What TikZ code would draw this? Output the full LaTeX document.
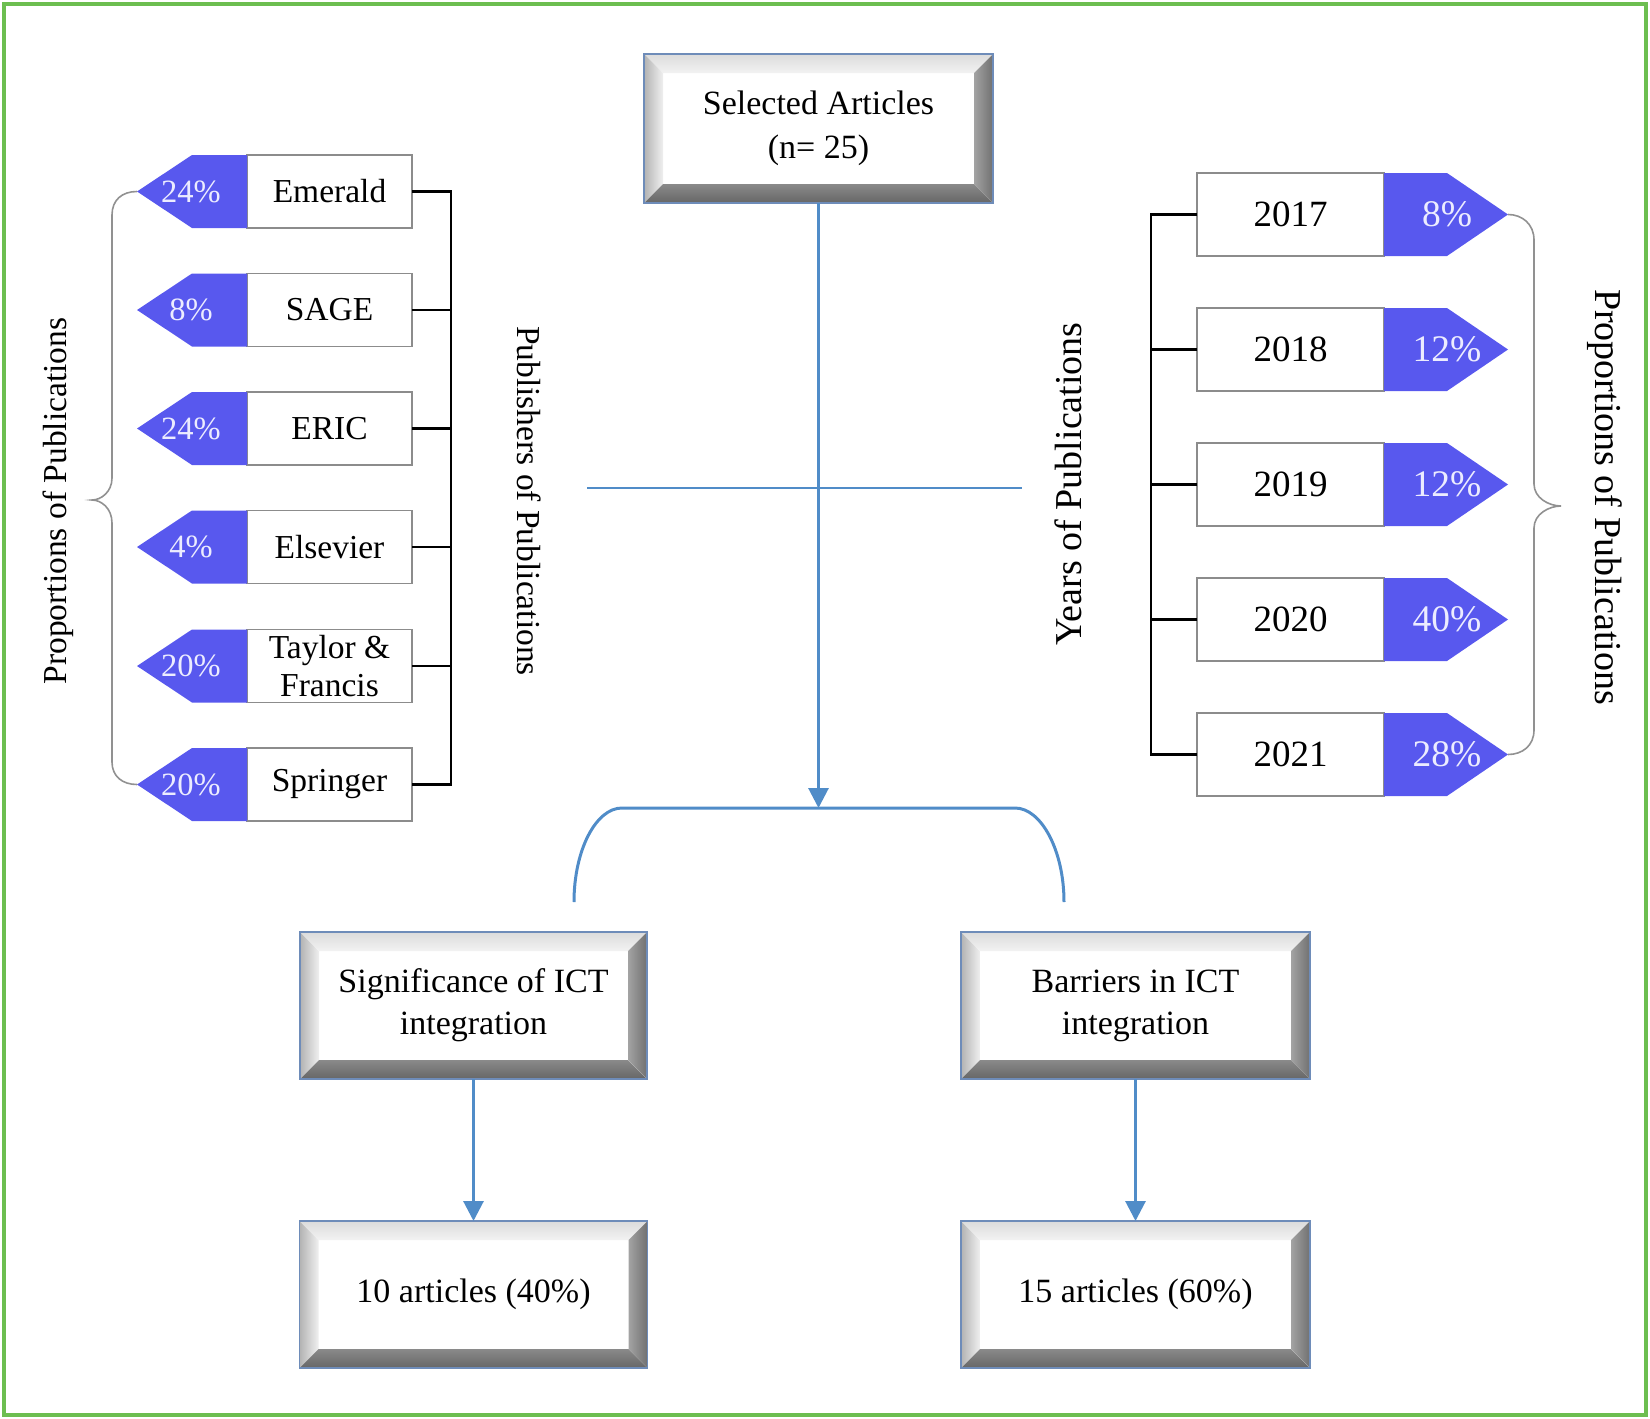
\documentclass[tikz,border=0pt]{standalone}
\usepackage{fontspec}
\setmainfont{Liberation Serif}
\usetikzlibrary{arrows.meta,calc}
\definecolor{pent}{RGB}{88,88,238}
\definecolor{pcttext}{RGB}{236,236,255}
\definecolor{conn}{RGB}{80,140,200}
\definecolor{bxb}{RGB}{110,140,185}
\definecolor{grn}{RGB}{108,190,80}
\definecolor{tagline}{RGB}{140,140,140}
\definecolor{bracecol}{RGB}{145,145,145}
\newcommand{\fs}[2]{\fontsize{#1}{#2}\selectfont}
\begin{document}
\begin{tikzpicture}[x=1pt,y=-1pt,
  bevel/.style 2 args={draw=bxb, line width=1.6pt, fill=white,
    minimum width=#1, minimum height=#2, inner sep=0pt, outer sep=0pt,
    align=center, font=\fs{34}{44},
    path picture={
      \path (path picture bounding box.north west) coordinate (bNW)
            (path picture bounding box.north east) coordinate (bNE)
            (path picture bounding box.south west) coordinate (bSW)
            (path picture bounding box.south east) coordinate (bSE);
      \fill[top color=black!14, bottom color=black!5] (bNW) -- (bNE) -- ([shift={(-19pt,-19pt)}]bNE) -- ([shift={(19pt,-19pt)}]bNW) -- cycle;
      \fill[left color=black!30, right color=black!6] (bNW) -- ([shift={(19pt,-19pt)}]bNW) -- ([shift={(19pt,19pt)}]bSW) -- (bSW) -- cycle;
      \fill[left color=black!36, right color=black!56] (bNE) -- (bSE) -- ([shift={(-19pt,19pt)}]bSE) -- ([shift={(-19pt,-19pt)}]bNE) -- cycle;
      \fill[top color=black!46, bottom color=black!60] (bSW) -- ([shift={(19pt,19pt)}]bSW) -- ([shift={(-19pt,19pt)}]bSE) -- (bSE) -- cycle;
    }},
  tagL/.style={draw=tagline, line width=1.8pt, fill=white, minimum width=165pt,
    minimum height=73pt, inner sep=0pt, outer sep=0pt, align=center, font=\fs{33.5}{38}},
  tagR/.style={draw=tagline, line width=1.8pt, fill=white, minimum width=187pt,
    minimum height=83pt, inner sep=0pt, outer sep=0pt, align=center, font=\fs{37}{42}},
  pctL/.style={text=pcttext, font=\fs{32.5}{38}, inner sep=0pt},
  pctR/.style={text=pcttext, font=\fs{37.5}{42}, inner sep=0pt},
  blk/.style={draw=black, line width=2.6pt},
  blu/.style={draw=conn, line width=3pt},
  brc/.style={draw=bracecol, line width=1.6pt},
  tipstyle/.style={-{Triangle[width=20pt,length=20pt]}},
  sidelabel/.style={inner sep=0pt}
]
\useasboundingbox (0,0) rectangle (1650,1419);
\draw[grn, line width=4pt] (4,4) rectangle (1646,1415);

% main boxes
\node[bevel={349pt}{149pt}] (top) at (818.5,128.5) {Selected Articles\\(n= 25)};
\node[bevel={347pt}{147pt}, font=\fs{34}{42}] (sig) at (473.5,1005.5) {Significance of ICT\\integration};
\node[bevel={349pt}{147pt}, font=\fs{34}{42}] (bar) at (1135.5,1005.5) {Barriers in ICT\\integration};
\node[bevel={348pt}{147pt}] (a10) at (473.5,1294.5) {10 articles (40\%)};
\node[bevel={349pt}{147pt}] (a15) at (1135.5,1294.5) {15 articles (60\%)};

% blue connectors
\coordinate (brk) at (818.5,808);
\coordinate (hl) at (587,488);
\coordinate (hr) at (1022,488);
\coordinate (bl) at (574,902);
\coordinate (br) at (1064,902);
\draw[blu, line width=2.6pt] (hl) -- (hr);
\draw[blu, tipstyle] (top.south) -- (brk);
\draw[blu] (bl) .. controls (574,850) and (596,808) .. (622,808) -- (1015,808) .. controls (1041,808) and (1064,850) .. (br);
\draw[blu, tipstyle] (sig.south) -- (a10.north);
\draw[blu, tipstyle] (bar.south) -- (a15.north);

% left publisher tags
\foreach \nm/\yy/\txt/\pc in {pE/191.5/Emerald/24, pS/310/SAGE/8, pR/428.5/ERIC/24, pL/547/Elsevier/4, pT/666/{Taylor \&\\Francis}/20, pP/784.5/Springer/20}{
  \node[tagL] (\nm) at (329.5,\yy) {\txt};
  \fill[pent] (\nm.north west) -- ([xshift=-55pt]\nm.north west) -- ([xshift=-110pt]\nm.west) -- ([xshift=-55pt]\nm.south west) -- (\nm.south west) -- cycle;
  \node[pctL] (q\nm) at ([xshift=-56pt]\nm.west) {\pc\%};
}
\draw[blk] (pE.east) -- ([xshift=39pt]pE.east) -- ([xshift=39pt]pP.east) -- (pP.east);
\foreach \nm in {pS,pR,pL,pT}{ \draw[blk] (\nm.east) -- ([xshift=39pt]\nm.east); }

% left brace
\coordinate (tipE) at ([xshift=-110pt]pE.west);
\coordinate (tipP) at ([xshift=-110pt]pP.west);
\draw[brc] (tipE) .. controls (122,191.5) and (112,200) .. (112,215) -- (112,478)
  .. controls (112,492) and (101,500) .. (92,500) .. controls (101,500) and (112,508) .. (112,523)
  -- (112,762) .. controls (112,776) and (122,784.5) .. (tipP);

% right year tags
\foreach \nm/\yy/\txt/\pc in {y17/214.5/2017/8, y18/349.5/2018/12, y19/484.5/2019/12, y20/619.5/2020/40, y21/754.5/2021/28}{
  \node[tagR] (\nm) at (1290.5,\yy) {\txt};
  \fill[pent] (\nm.north east) -- ([xshift=63pt]\nm.north east) -- ([xshift=124pt]\nm.east) -- ([xshift=63pt]\nm.south east) -- (\nm.south east) -- cycle;
  \node[pctR] (q\nm) at ([xshift=63pt]\nm.east) {\pc\%};
}
\draw[blk] (y17.west) -- ([xshift=-46pt]y17.west) -- ([xshift=-46pt]y21.west) -- (y21.west);
\foreach \nm in {y18,y19,y20}{ \draw[blk] (\nm.west) -- ([xshift=-46pt]\nm.west); }

% right brace
\coordinate (tip17) at ([xshift=124pt]y17.east);
\coordinate (tip21) at ([xshift=124pt]y21.east);
\draw[brc] (tip17) .. controls (1522,214.5) and (1534,224) .. (1534,240) -- (1534,484)
  .. controls (1534,498) and (1549,506) .. (1561,506) .. controls (1549,506) and (1534,514) .. (1534,528)
  -- (1534,730) .. controls (1534,746) and (1522,754.5) .. (tip21);

% rotated side labels
\node[sidelabel, rotate=90, font=\fs{33.5}{38}] (lprop) at (58,501) {Proportions of Publications};
\node[sidelabel, rotate=-90, font=\fs{33.5}{38}] (lpub) at (529,501) {Publishers of Publications};
\node[sidelabel, rotate=90, font=\fs{38}{44}] (ryrs) at (1068,484) {Years of Publications};
\node[sidelabel, rotate=-90, font=\fs{38}{44}] (rprop) at (1605,497) {Proportions of Publications};
\end{tikzpicture}
\end{document}
